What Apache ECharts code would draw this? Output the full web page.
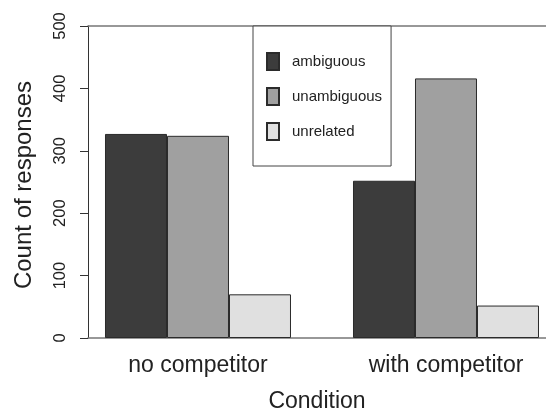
<!DOCTYPE html>
<html>
<head>
<meta charset="utf-8">
<script src="https://cdn.jsdelivr.net/npm/echarts@6/dist/echarts.min.js"></script>
<style>
  html, body { margin: 0; padding: 0; background: #fff; }
  #chart { width: 546px; height: 410px; }
</style>
</head>
<body>
<div id="chart"></div>
<script>
// 数据
const categories = ['no competitor', 'with competitor']
const seriesNames = ['ambiguous', 'unambiguous', 'unrelated']
const ambiguous = [327, 252]
const unambiguous = [324, 416]
const unrelated = [70, 52]
const yTicks = [0, 100, 200, 300, 400, 500]

const colors = ['#3c3c3c', '#a0a0a0', '#e0e0e0']
const fontFamily = 'Liberation Sans, Arial, sans-serif'

// R barplot(beside=TRUE) 式的位置：每组3根柱，组间空1根柱宽
function barX(group, i) {
  return 1 + group * 4 + i + 0.5
}
function groupCenter(group) {
  return barX(group, 1)
}

const values = [ambiguous, unambiguous, unrelated]
const series = values.map((arr, i) => ({
  name: seriesNames[i],
  type: 'bar',
  barWidth: 62,
  barGap: '-100%',
  data: arr.map((v, g) => [barX(g, i), v]),
  itemStyle: {
    color: colors[i],
    borderColor: '#2b2b2b',
    borderWidth: 1
  }
}))

const myChart = echarts.init(document.getElementById('chart'))
myChart.setOption({
  animation: false,
  textStyle: { fontFamily: fontFamily },
  grid: {
    left: 88,
    right: 0,
    top: 26,
    bottom: 72,
    containLabel: false,
    outerBoundsMode: 'none'
  },
  legend: {
    data: seriesNames,
    orient: 'vertical',
    left: 253,
    top: 26,
    icon: 'rect',
    itemWidth: 12,
    itemHeight: 17,
    itemGap: 16,
    padding: [26, 9, 25, 13],
    backgroundColor: '#fff',
    borderColor: '#444',
    borderWidth: 1,
    borderRadius: 0,
    z: 10,
    textStyle: {
      fontSize: 15,
      color: '#222',
      fontFamily: fontFamily,
      padding: [0, 0, 0, 8]
    }
  },
  xAxis: [{
    type: 'value',
    min: 0.726,
    max: 8.113,
    position: 'bottom',
    name: 'Condition',
    nameLocation: 'middle',
    nameGap: 52,
    nameTextStyle: { fontSize: 23, color: '#222', fontFamily: fontFamily },
    axisLine: { show: true, onZero: false, lineStyle: { color: '#777', width: 1.5 } },
    axisTick: { show: false },
    splitLine: { show: false },
    axisLabel: {
      customValues: categories.map((c, g) => groupCenter(g)),
      formatter: function(v) {
        const g = categories.findIndex((c, k) => Math.abs(groupCenter(k) - v) < 0.01)
        return g >= 0 ? categories[g] : ''
      },
      fontSize: 23,
      color: '#222',
      margin: 16
    }
  }, {
    type: 'value',
    min: 0.726,
    max: 8.113,
    position: 'top',
    axisLine: { show: true, onZero: false, lineStyle: { color: '#777', width: 1.5 } },
    axisTick: { show: false },
    axisLabel: { show: false },
    splitLine: { show: false }
  }],
  yAxis: {
    type: 'value',
    min: yTicks[0],
    max: yTicks[yTicks.length - 1],
    interval: 100,
    name: 'Count of responses',
    nameLocation: 'middle',
    nameRotate: 90,
    nameGap: 52,
    nameTextStyle: { fontSize: 24, color: '#222', fontFamily: fontFamily, padding: [0, 6, 0, 0] },
    axisLine: { show: true, onZero: false, lineStyle: { color: '#333', width: 1 } },
    axisTick: { show: true, length: 8, lineStyle: { color: '#333', width: 1 } },
    splitLine: { show: false },
    axisLabel: {
      rotate: 90,
      fontSize: 16.5,
      color: '#222',
      margin: 19
    }
  },
  series: series
})
</script>
</body>
</html>
